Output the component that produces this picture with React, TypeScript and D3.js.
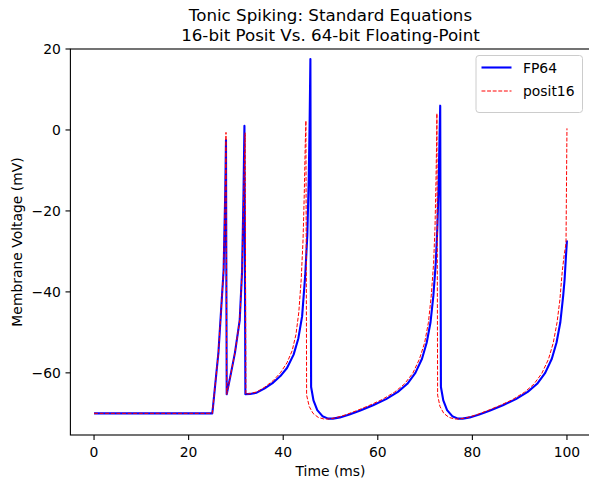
import React from "react";
import * as d3 from "d3";

// ---- data ----
const fp64Time = [
  0, 25, 25.1, 26.3, 27.4, 27.75, 27.9,
  28.05, 28.8, 29.8, 30.8, 31.3, 31.6, 31.8,
  32.0, 33, 34.4, 36, 37.9, 39.4, 40.8, 42.2, 43.2, 44.0, 44.65, 45.1, 45.4, 45.6, 45.75,
  45.9, 46.4, 47.2, 48.3, 49.5, 50.5, 52, 54, 56.3, 59, 61.75, 64.25, 66.25, 67.95, 69.35, 70.35, 71.15, 71.75, 72.25, 72.6, 72.85, 73.05, 73.2,
  73.35, 73.85, 74.65, 75.75, 76.95, 77.95, 79.45, 81.45, 83.75, 86.45, 89.2, 91.7, 93.7, 95.4, 96.8, 97.8, 98.6, 99.2, 99.5, 99.8, 100,
];
const fp64Volt = [
  -70, -70, -69, -55, -34.6, -15, -2.5,
  -65.3, -61, -55, -47, -35, -16, 1,
  -65.3, -65.2, -64.9, -63.9, -62.4, -60.8, -58.8, -55.5, -51.5, -46, -36, -26, -12, 3, 17.5,
  -63.5, -66.8, -69.2, -70.7, -71.3, -71.3, -71.0, -70.3, -69.3, -68.0, -66.5, -64.7, -62.7, -60.0, -56.5, -52.5, -47.5, -41, -33, -24, -14, -2, 6.0,
  -63.5, -66.8, -69.2, -70.7, -71.3, -71.3, -71.0, -70.3, -69.3, -68.0, -66.5, -64.7, -62.7, -60.0, -56.5, -52.5, -47.5, -41, -37, -31, -27.3,
];

const posit16Time = [
  0, 25, 25.1, 26.3, 27.4, 27.75, 27.9,
  28.05, 28.8, 29.8, 30.8, 31.3, 31.65, 31.95,
  32.1, 33, 34.4, 36, 37.9, 39.4, 40.8, 41.9, 42.7, 43.3, 43.8, 44.2, 44.45, 44.65, 44.8,
  44.95, 45.5, 46.3, 47.4, 48.6, 49.6, 51.1, 53.1, 55.4, 58.1, 60.9, 63.5, 65.6, 67.4, 68.8, 69.9, 70.7, 71.3, 71.8, 72.1, 72.3, 72.45, 72.5,
  72.65, 73.15, 73.95, 75.05, 76.25, 77.25, 78.75, 80.75, 83.05, 85.75, 88.5, 91.0, 93.0, 94.7, 96.1, 97.1, 97.9, 98.5, 99.0, 99.4, 99.8, 100,
];
const posit16Volt = [
  -70, -70, -69, -55, -34.6, -14, -0.6,
  -65.3, -61, -55, -47, -35, -16, -0.7,
  -65.3, -65.1, -64.7, -63.6, -61.9, -60.0, -57.5, -54.5, -50.5, -45, -37, -27, -16, -4, 2.3,
  -65.5, -68.3, -70.0, -71.0, -71.4, -71.4, -71.1, -70.4, -69.4, -68.1, -66.6, -64.8, -62.8, -60.1, -56.6, -52.6, -47.6, -41, -33, -24, -13, -2, 4.1,
  -65.5, -68.3, -70.0, -71.0, -71.4, -71.4, -71.1, -70.4, -69.4, -68.1, -66.6, -64.8, -62.8, -60.1, -56.6, -52.6, -47.6, -42, -35, -31, -28, 0.4,
];

const xTicks = [0, 20, 40, 60, 80, 100];
const yTicks = [-60, -40, -20, 0, 20];
const seriesNames = ["FP64", "posit16"];
const titleLines = ["Tonic Spiking: Standard Equations", "16-bit Posit Vs. 64-bit Floating-Point"];

const W = 589;
const H = 479;
const left = 70.4;
const right = 590.6;
const top = 49;
const bottom = 435;
const FONT = "DejaVu Sans, Verdana, sans-serif";

const fmt = (v: number) => (v < 0 ? "\u2212" + Math.abs(v) : String(v));

export default function App() {
  const x = d3.scaleLinear().domain([-5, 105]).range([left, right]);
  const y = d3.scaleLinear().domain([-75.35, 20]).range([bottom, top]);
  const line = d3
    .line<[number, number]>()
    .x((d) => x(d[0]))
    .y((d) => y(d[1]));
  const blue = line(fp64Time.map((t, i) => [t, fp64Volt[i]] as [number, number])) || "";
  const red = line(posit16Time.map((t, i) => [t, posit16Volt[i]] as [number, number])) || "";
  const cx = (left + right) / 2;
  const cy = (top + bottom) / 2;

  return (
    <svg
      width={W}
      height={H}
      style={{ position: "absolute", left: 0, top: 0, background: "#fff" }}
      fontFamily={FONT}
    >
      <defs>
        <clipPath id="plotclip">
          <rect x={left} y={top} width={right - left} height={bottom - top} />
        </clipPath>
      </defs>
      <rect x={0} y={0} width={W} height={H} fill="#fff" />
      <g clipPath="url(#plotclip)">
        <path d={blue} fill="none" stroke="#0000ff" strokeWidth={2.1} strokeLinejoin="round" />
        <path d={red} fill="none" stroke="#ff0000" strokeWidth={1} strokeDasharray="3.9 1.7" />
      </g>
      {/* spines */}
      <rect x={left} y={top} width={right - left} height={bottom - top} fill="none" stroke="#000" strokeWidth={1.1} />
      {/* x ticks */}
      {xTicks.map((t) => (
        <g key={"x" + t}>
          <line x1={x(t)} x2={x(t)} y1={bottom} y2={bottom + 4.9} stroke="#000" strokeWidth={1.1} />
          <text x={x(t)} y={457} fontSize={13.9} textAnchor="middle" fill="#000">
            {fmt(t)}
          </text>
        </g>
      ))}
      {yTicks.map((t) => (
        <g key={"y" + t}>
          <line x1={left - 4.9} x2={left} y1={y(t)} y2={y(t)} stroke="#000" strokeWidth={1.1} />
          <text x={left - 9.5} y={y(t) + 5} fontSize={13.9} textAnchor="end" fill="#000">
            {fmt(t)}
          </text>
        </g>
      ))}
      <text x={cx} y={475.5} fontSize={13.9} textAnchor="middle" fill="#000">
        Time (ms)
      </text>
      <text
        transform={`translate(22,${cy}) rotate(-90)`}
        fontSize={13.9}
        textAnchor="middle"
        fill="#000"
      >
        Membrane Voltage (mV)
      </text>
      <text x={cx} y={20.5} fontSize={16.7} textAnchor="middle" fill="#000">
        {titleLines[0]}
      </text>
      <text x={cx} y={40.5} fontSize={16.7} textAnchor="middle" fill="#000">
        {titleLines[1]}
      </text>
      {/* legend */}
      <g>
        <rect x={476} y={55.5} width={106.5} height={57} rx={3} fill="#fff" fillOpacity={0.8} stroke="#cccccc" strokeWidth={1} />
        <line x1={481.5} x2={511.5} y1={67.5} y2={67.5} stroke="#0000ff" strokeWidth={2.1} />
        <text x={523} y={72.5} fontSize={13.9} fill="#000">
          {seriesNames[0]}
        </text>
        <line x1={481.5} x2={511.5} y1={91} y2={91} stroke="#ff0000" strokeWidth={1} strokeDasharray="3.9 1.7" />
        <text x={523} y={96} fontSize={13.9} fill="#000">
          {seriesNames[1]}
        </text>
      </g>
    </svg>
  );
}
